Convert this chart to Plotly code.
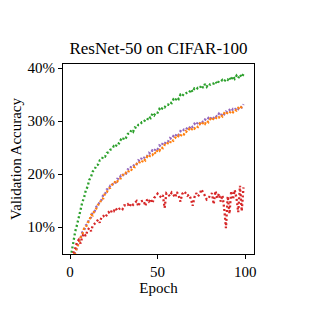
import plotly.graph_objects as go

epochs = list(range(100))

green = [3.5, 5.6, 7.3, 9.2, 10.4, 12.1, 13.2, 14.7, 15.5, 16.9,
         17.6, 18.9, 19.5, 20.5, 20.8, 21.7, 21.8, 22.6, 22.7, 23.4,
         23.3, 24.0, 24.1, 24.6, 24.7, 25.3, 25.1, 25.9, 25.8, 26.5,
         26.3, 27.1, 26.9, 27.6, 27.6, 28.3, 28.0, 28.8, 28.7, 29.3,
         29.3, 29.8, 29.8, 30.3, 30.2, 30.9, 30.6, 31.4, 31.1, 31.7,
         31.6, 32.3, 32.0, 32.7, 32.6, 33.1, 33.1, 33.6, 33.4, 34.1,
         33.8, 34.5, 34.2, 35.0, 34.7, 35.2, 35.2, 35.5, 35.4, 36.0,
         35.5, 36.2, 36.0, 36.3, 36.2, 36.8, 36.3, 37.0, 36.5, 37.1,
         36.9, 37.2, 37.1, 37.5, 37.0, 37.6, 37.5, 37.8, 37.5, 38.0,
         37.8, 38.3, 37.7, 38.5, 38.0, 38.6, 38.1, 38.8, 38.3, 38.9]

purple = [3.5, 4.1, 4.4, 5.4, 6.0, 7.2, 7.8, 9.0, 9.3, 10.3,
          10.6, 11.6, 11.8, 12.8, 12.9, 13.8, 14.0, 14.9, 15.1, 16.1,
          16.2, 17.1, 17.1, 17.8, 17.8, 18.5, 18.4, 19.1, 19.0, 19.7,
          19.6, 20.2, 20.1, 20.9, 20.8, 21.5, 21.4, 22.0, 21.9, 22.6,
          22.4, 23.1, 22.9, 23.5, 23.4, 24.0, 23.8, 24.5, 24.3, 24.9,
          24.7, 25.4, 25.2, 25.9, 25.7, 26.3, 26.2, 26.8, 26.6, 27.2,
          27.0, 27.7, 27.4, 28.1, 27.9, 28.4, 28.3, 28.8, 28.6, 29.2,
          28.9, 29.5, 29.2, 29.8, 29.5, 30.1, 29.8, 30.3, 30.1, 30.6,
          30.3, 30.9, 30.6, 31.1, 30.8, 31.4, 31.0, 31.6, 31.3, 31.8,
          31.6, 32.1, 31.8, 32.3, 32.1, 32.6, 32.3, 32.8, 32.6, 33.2]

orange = [3.4, 3.8, 4.7, 5.1, 6.2, 6.9, 8.0, 8.5, 9.7, 9.8,
          10.8, 11.1, 12.3, 12.2, 13.2, 13.5, 14.2, 14.4, 15.4, 15.4,
          16.4, 16.6, 17.3, 17.4, 18.0, 18.0, 18.8, 18.6, 19.2, 19.2,
          19.8, 19.7, 20.3, 20.2, 20.9, 20.8, 21.4, 21.3, 21.9, 21.8,
          22.4, 22.2, 22.9, 22.6, 23.3, 23.1, 23.7, 23.6, 24.2, 23.8,
          24.6, 24.4, 25.1, 24.9, 25.5, 25.4, 26.0, 25.8, 26.5, 26.3,
          26.9, 26.7, 27.3, 27.1, 27.7, 27.5, 28.1, 27.9, 28.5, 28.2,
          28.8, 28.6, 29.1, 28.9, 29.5, 29.2, 29.8, 29.5, 30.1, 29.8,
          30.4, 30.1, 30.6, 30.4, 30.9, 30.7, 31.2, 30.9, 31.5, 31.2,
          31.7, 31.5, 32.0, 31.7, 32.2, 32.0, 32.5, 32.2, 32.8, 32.9]

red = [3.5, 4.5, 5.2, 6.0, 7.2, 7.6, 6.9, 8.2, 8.8, 8.3,
       9.4, 9.8, 9.2, 10.3, 10.6, 10.9, 11.4, 10.8, 11.9, 12.1,
       11.8, 12.4, 12.8, 12.5, 13.2, 13.0, 13.6, 13.1, 13.5, 13.7,
       13.4, 14.1, 14.0, 14.3, 13.8, 14.5, 14.2, 14.6, 14.9, 13.9,
       14.7, 14.9, 15.0, 14.0, 15.2, 14.8, 15.3, 14.5, 15.5, 15.8,
       16.3, 15.9, 15.6, 16.0, 13.6, 16.4, 16.2, 15.8, 16.5, 16.1,
       15.6, 16.6, 15.9, 14.8, 16.2, 16.7, 16.4, 15.9, 16.1, 15.3,
       14.0, 15.6, 16.4, 15.8, 16.2, 17.1, 16.6, 15.9, 15.2, 15.4,
       16.0, 16.4, 14.3, 16.8, 15.5, 16.3, 14.8, 16.0, 13.5, 9.8,
       15.8, 12.5, 16.8, 15.2, 17.0, 15.5, 12.8, 17.8, 13.0, 17.5]

y_ticks = [10, 20, 30, 40]
y_tick_text = ["10%", "20%", "30%", "40%"]
x_ticks = [0, 50, 100]

series = [("green", green, "#2ca02c"), ("purple", purple, "#9467bd"),
          ("orange", orange, "#ff7f0e"), ("red", red, "#d62728")]

fig = go.Figure()
for name, vals, col in series:
    fig.add_trace(go.Scatter(x=epochs, y=vals, mode="lines", name=name,
                             line=dict(color=col, width=2.3, dash="2px,2.4px"),
                             showlegend=False))

# page has an 8px body margin, so the figure is 309px and offset accordingly
W = 309
font = "Liberation Serif, Times New Roman, serif"
fig.update_layout(
    width=W, height=W,
    margin=dict(l=55, r=63, t=56, b=63, autoexpand=False),
    paper_bgcolor="white", plot_bgcolor="white",
    font=dict(family=font, size=15, color="black"),
    title=dict(text="ResNet-50 on CIFAR-100", x=(55 + 246) / 2 / W, xanchor="center",
               y=1 - 40 / W, yanchor="middle", font=dict(size=17)),
)
fig.update_xaxes(range=[-4, 105], tickvals=x_ticks, showgrid=False,
                 zeroline=False, showline=True, linecolor="black", linewidth=1.2,
                 mirror=True, ticks="outside", ticklen=4, tickcolor="black",
                 automargin=False, tickfont=dict(size=15),
                 title=dict(text="Epoch", standoff=3, font=dict(size=15)))
fig.update_yaxes(range=[4.9, 40.8], tickvals=y_ticks, ticktext=y_tick_text,
                 showgrid=False, zeroline=False, showline=True, linecolor="black",
                 linewidth=1.2, mirror=True, ticks="outside", ticklen=4,
                 tickcolor="black", automargin=False, tickfont=dict(size=15),
                 title=dict(text="Validation Accuracy", standoff=3, font=dict(size=15)))

fig.write_html("out.html")
